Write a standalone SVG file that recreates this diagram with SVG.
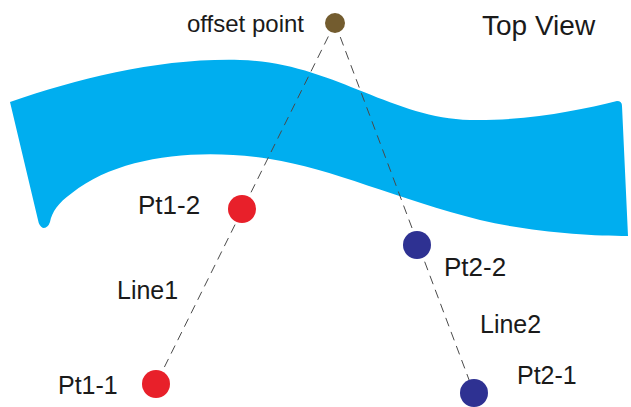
<svg xmlns="http://www.w3.org/2000/svg" width="631" height="407" viewBox="0 0 631 407">
<style>
.lbl{font-family:"Liberation Sans",Arial,sans-serif;fill:#1a1a1a}
.conn{stroke:#4a4a4a;stroke-width:1;stroke-dasharray:9 6;fill:none}
.red{fill:#e8202a}
.navy{fill:#2e3192}
</style>
<rect width="631" height="407" fill="#ffffff"/>
<g id="ribbon">
<path d="M10,102 C80,78 160,58 240,60 C330,62 390,118 470,120 C530,121 580,110 617,101 Q622,101 622,106 L628,236 C590,236 530,232 480,220 C400,200 330,168 270,159 C200,148 120,155 72,193 C58,203 52,212 50,222 Q48,228 43,228 Q39,226 38,220 Z" fill="#00aeef"/>
</g>
<g id="title"><text class="lbl" x="482" y="35" font-size="28">Top View</text></g>
<g id="connectors">
<line id="line1" class="conn" x1="335" y1="23" x2="156" y2="384"/>
<line id="line2" class="conn" x1="335" y1="23" x2="474" y2="393"/>
<text class="lbl" x="117" y="299" font-size="25">Line1</text>
<text class="lbl" x="480" y="333" font-size="25">Line2</text>
</g>
<g id="offset-point">
<circle cx="335" cy="23" r="10" fill="#735c2f"/>
<text class="lbl" x="187" y="32" font-size="24">offset point</text>
</g>
<g id="pt1-2">
<circle class="red" cx="242" cy="209" r="14"/>
<text class="lbl" x="138" y="214" font-size="26">Pt1-2</text>
</g>
<g id="pt1-1">
<circle class="red" cx="156" cy="384" r="14"/>
<text class="lbl" x="58" y="394" font-size="25">Pt1-1</text>
</g>
<g id="pt2-2">
<circle class="navy" cx="417" cy="245" r="14"/>
<text class="lbl" x="444" y="276" font-size="26">Pt2-2</text>
</g>
<g id="pt2-1">
<circle class="navy" cx="474" cy="393" r="14"/>
<text class="lbl" x="517" y="384" font-size="25">Pt2-1</text>
</g>
</svg>
